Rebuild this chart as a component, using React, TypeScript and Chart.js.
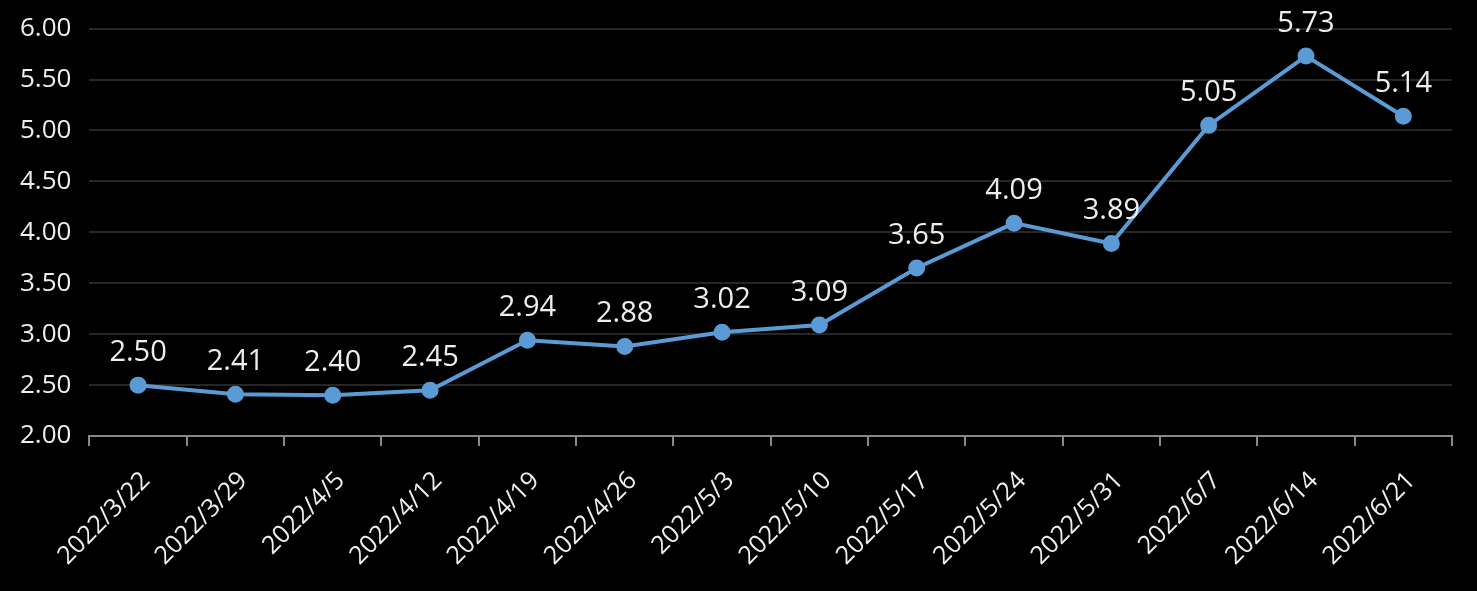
import React, { useEffect, useRef } from "react";
import { Chart, registerables } from "chart.js";

Chart.register(...registerables);

const categories = [
  "2022/3/22", "2022/3/29", "2022/4/5", "2022/4/12", "2022/4/19", "2022/4/26", "2022/5/3",
  "2022/5/10", "2022/5/17", "2022/5/24", "2022/5/31", "2022/6/7", "2022/6/14", "2022/6/21",
];
const values = [2.5, 2.41, 2.4, 2.45, 2.94, 2.88, 3.02, 3.09, 3.65, 4.09, 3.89, 5.05, 5.73, 5.14];
const yMin = 2;
const yMax = 6;
const yStep = 0.5;

const FONT = "'Open Sans', 'Noto Sans', sans-serif";
const TEXT = "#eeeeee";

const labelPlugin = {
  id: "valueLabels",
  afterDatasetsDraw(chart: any) {
    const ctx = chart.ctx;
    const meta = chart.getDatasetMeta(0);
    ctx.save();
    ctx.font = `29px ${FONT}`;
    ctx.fillStyle = TEXT;
    ctx.textAlign = "center";
    ctx.textBaseline = "bottom";
    meta.data.forEach((pt: any, i: number) => {
      ctx.fillText(values[i].toFixed(2), pt.x, pt.y - 18);
    });
    ctx.restore();
  },
};

export default function App() {
  const ref = useRef<HTMLCanvasElement>(null);
  useEffect(() => {
    if (!ref.current) return;
    const chart = new Chart(ref.current, {
      type: "line",
      data: {
        labels: categories,
        datasets: [
          {
            data: values,
            borderColor: "#5b9bd5",
            backgroundColor: "#5b9bd5",
            borderWidth: 4,
            pointRadius: 6.5,
            pointBackgroundColor: "#5b9bd5",
            pointBorderColor: "#5b9bd5",
            tension: 0,
          },
        ],
      },
      options: {
        animation: false,
        responsive: true,
        maintainAspectRatio: false,
        layout: { padding: { top: 0, right: 25, left: 2, bottom: 0 } },
        plugins: { legend: { display: false }, tooltip: { enabled: false } },
        scales: {
          x: {
            type: "category",
            offset: true,
            grid: {
              display: true,
              drawOnChartArea: false,
              drawTicks: true,
              tickLength: 10,
              offset: true,
              color: "#888888",
              lineWidth: 2,
            },
            border: { display: true, color: "#888888", width: 2 },
            ticks: {
              color: TEXT,
              font: { family: FONT, size: 25 },
              maxRotation: 45,
              minRotation: 45,
              padding: 20,
              labelOffset: 8,
              autoSkip: false,
            },
          },
          y: {
            min: yMin,
            max: yMax,
            grid: { color: "#262626", lineWidth: 2, drawTicks: false },
            border: { display: false },
            ticks: {
              stepSize: yStep,
              color: TEXT,
              font: { family: FONT, size: 26 },
              padding: 18,
              callback: (v: any) => Number(v).toFixed(2),
            },
          },
        },
      },
      plugins: [labelPlugin],
    });
    return () => chart.destroy();
  }, []);
  return (
    <div style={{ position: "fixed", left: 0, top: 0, width: 1477, height: 591, background: "#000", overflow: "hidden" }}>
      <div style={{ position: "absolute", left: 0, top: -5, width: 1477, height: 596 }}>
        <canvas ref={ref} />
      </div>
    </div>
  );
}
